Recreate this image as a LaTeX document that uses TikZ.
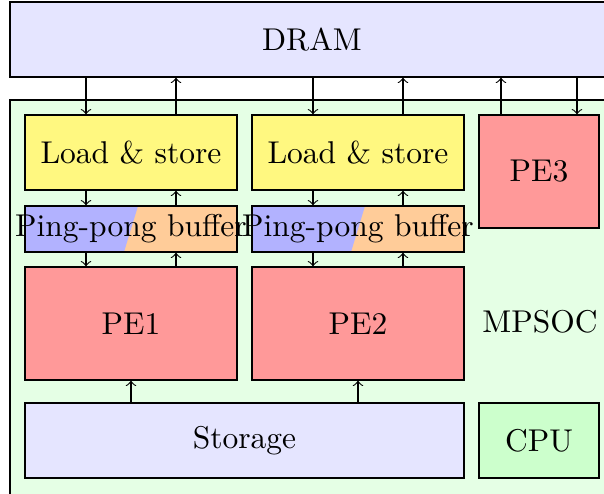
\documentclass[tikz,border=0pt]{standalone}
\begin{document}
\begin{tikzpicture}[x=0.3175pt,y=-0.3175pt,
  box/.style={draw, inner sep=0pt, line width=0.35pt},
  arr/.style={->, line width=0.35pt}]
\useasboundingbox (0,0) rectangle (604,493);
\clip (0,0) rectangle (604,493);
% containers
\node[box, fill=green!10, minimum width={604*0.3175pt}, minimum height={420*0.3175pt}] (mpsoc) at (312,310) {};
\node at (540,322) {MPSOC};
\node[box, fill=blue!10, minimum width={604*0.3175pt}, minimum height={75*0.3175pt}] (dram) at (312,39.5) {DRAM};
% load & store
\node[box, fill=yellow!50, minimum width={212*0.3175pt}, minimum height={75*0.3175pt}] (ls1) at (131,152.5) {Load \& store};
\node[box, fill=yellow!50, minimum width={212*0.3175pt}, minimum height={75*0.3175pt}] (ls2) at (358,152.5) {Load \& store};
\node[box, fill=red!40, minimum width={120*0.3175pt}, minimum height={113*0.3175pt}] (pe3) at (539,171.5) {PE3};
% ping-pong buffers
\fill[orange!40] (25,206) rectangle (237,252);
\fill[blue!30] (25,206) -- (138,206) -- (124,252) -- (25,252) -- cycle;
\fill[orange!40] (252,206) rectangle (464,252);
\fill[blue!30] (252,206) -- (365,206) -- (351,252) -- (252,252) -- cycle;
\node[box, minimum width={212*0.3175pt}, minimum height={46*0.3175pt}] (pp1) at (131,229) {\makebox[0pt]{Ping-pong buffer}};
\node[box, minimum width={212*0.3175pt}, minimum height={46*0.3175pt}] (pp2) at (358,229) {\makebox[0pt]{Ping-pong buffer}};
% PEs
\node[box, fill=red!40, minimum width={212*0.3175pt}, minimum height={113*0.3175pt}] (pe1) at (131,323.5) {PE1};
\node[box, fill=red!40, minimum width={212*0.3175pt}, minimum height={113*0.3175pt}] (pe2) at (358,323.5) {PE2};
% bottom row
\node[box, fill=blue!10, minimum width={439*0.3175pt}, minimum height={75*0.3175pt}] (stor) at (244.5,440.5) {Storage};
\node[box, fill=green!20, minimum width={120*0.3175pt}, minimum height={75*0.3175pt}] (cpu) at (539,440.5) {CPU};
% arrow columns
\coordinate (c1) at (86,0);
\coordinate (c2) at (176,0);
\coordinate (c3) at (313,0);
\coordinate (c4) at (403,0);
\coordinate (c5) at (501,0);
\coordinate (c6) at (577,0);
\coordinate (c7) at (131,0);
\coordinate (c8) at (358,0);
% DRAM <-> load & store
\draw[arr] (dram.south -| c1) -- (ls1.north -| c1);
\draw[arr] (ls1.north -| c2) -- (dram.south -| c2);
\draw[arr] (dram.south -| c3) -- (ls2.north -| c3);
\draw[arr] (ls2.north -| c4) -- (dram.south -| c4);
\draw[arr] (pe3.north -| c5) -- (dram.south -| c5);
\draw[arr] (dram.south -| c6) -- (pe3.north -| c6);
% load & store <-> buffers
\draw[arr] (ls1.south -| c1) -- (pp1.north -| c1);
\draw[arr] (pp1.north -| c2) -- (ls1.south -| c2);
\draw[arr] (ls2.south -| c3) -- (pp2.north -| c3);
\draw[arr] (pp2.north -| c4) -- (ls2.south -| c4);
% buffers <-> PEs
\draw[arr] (pp1.south -| c1) -- (pe1.north -| c1);
\draw[arr] (pe1.north -| c2) -- (pp1.south -| c2);
\draw[arr] (pp2.south -| c3) -- (pe2.north -| c3);
\draw[arr] (pe2.north -| c4) -- (pp2.south -| c4);
% storage -> PEs
\draw[arr] (stor.north -| c7) -- (pe1.south -| c7);
\draw[arr] (stor.north -| c8) -- (pe2.south -| c8);
\end{tikzpicture}
\end{document}
